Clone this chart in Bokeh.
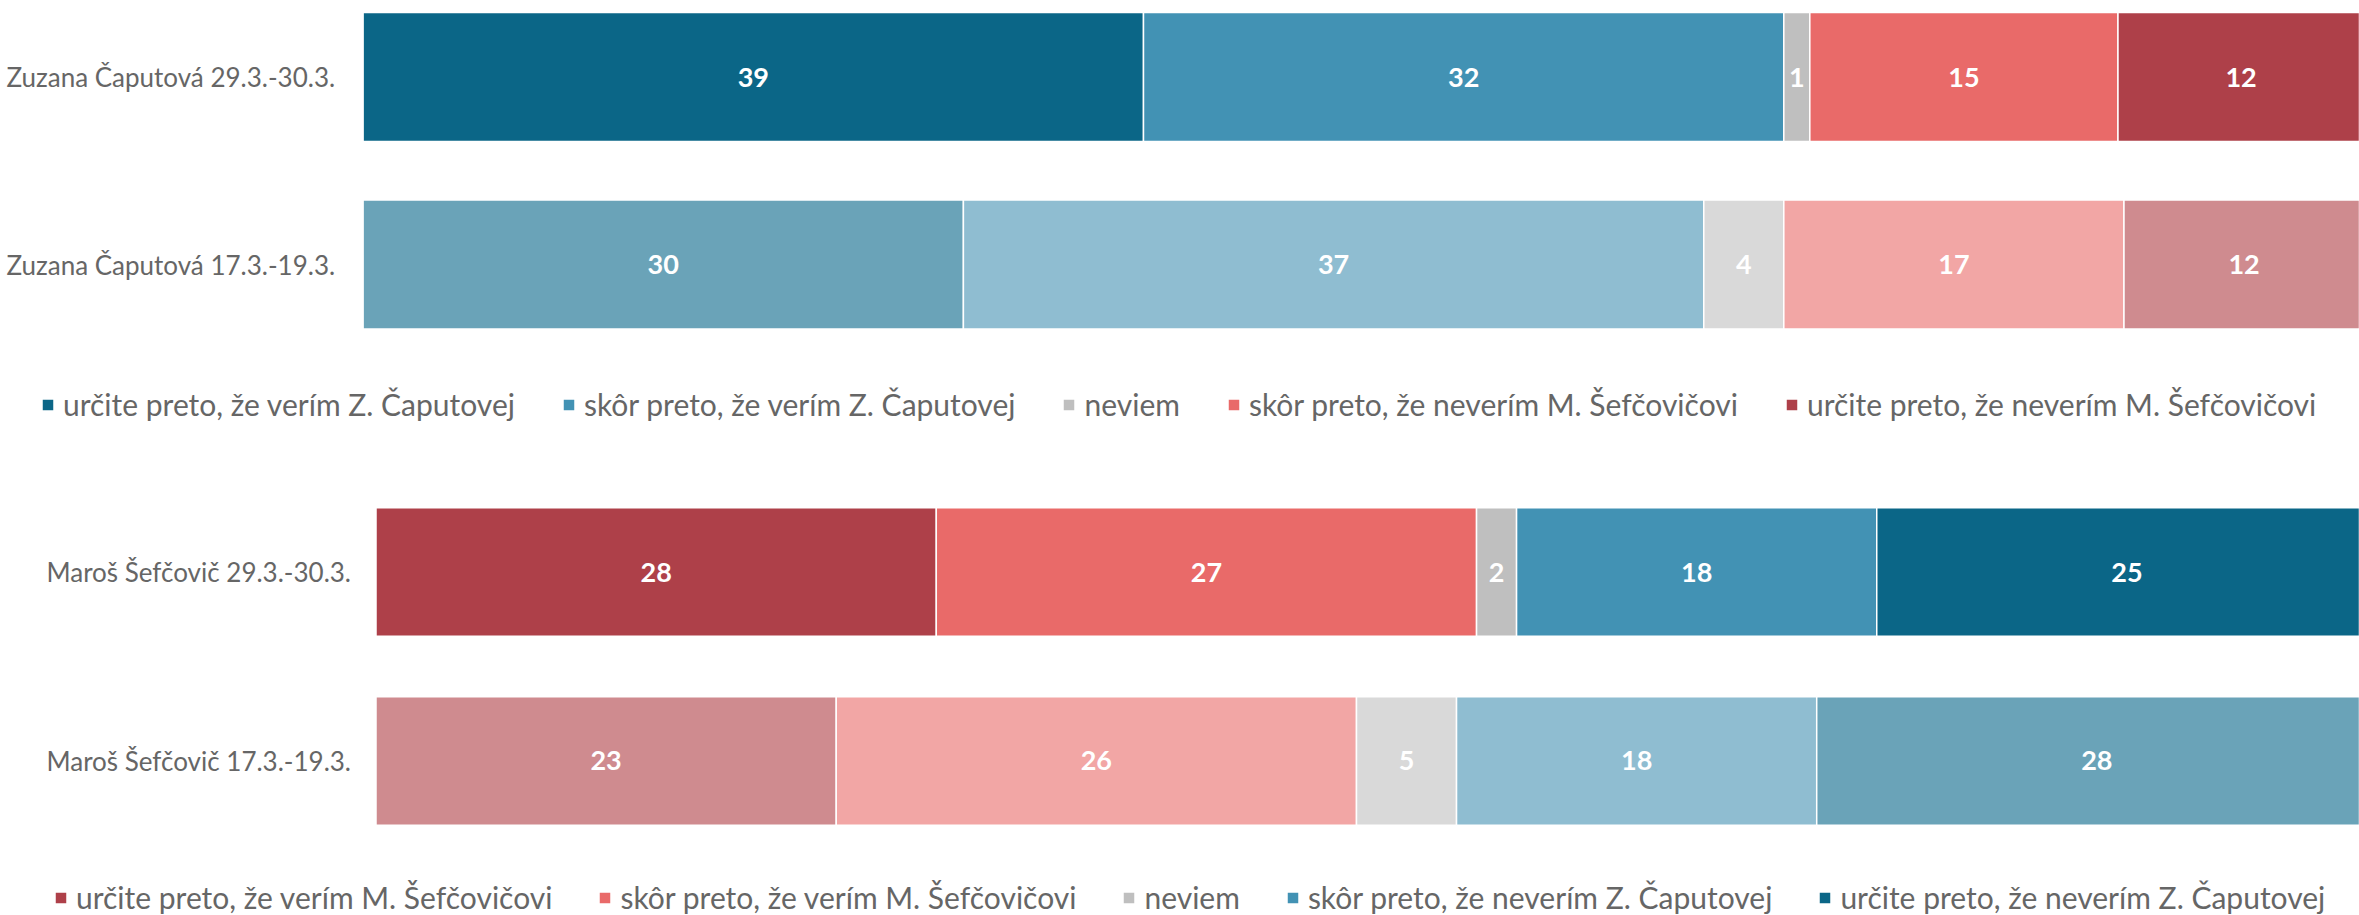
from bokeh.plotting import figure
from bokeh.models import ColumnDataSource, Range1d, Legend, LegendItem
from bokeh.layouts import column
from bokeh.core.properties import value
from bokeh.embed import file_html
from bokeh.resources import INLINE

# ---------------- data ----------------
top_categories = ["Zuzana Čaputová 29.3.-30.3.", "Zuzana Čaputová 17.3.-19.3."]
top_series = [
    "určite preto, že verím Z. Čaputovej",
    "skôr preto, že verím Z. Čaputovej",
    "neviem",
    "skôr preto, že neverím M. Šefčovičovi",
    "určite preto, že neverím M. Šefčovičovi",
]
top_urcite_verim = [39.0, 30]
top_skor_verim = [32.0, 37]
top_neviem = [1.3, 4]
top_skor_neverim = [15.4, 17]
top_urcite_neverim = [12.3, 12]

bot_categories = ["Maroš Šefčovič 29.3.-30.3.", "Maroš Šefčovič 17.3.-19.3."]
bot_series = [
    "určite preto, že verím M. Šefčovičovi",
    "skôr preto, že verím M. Šefčovičovi",
    "neviem",
    "skôr preto, že neverím Z. Čaputovej",
    "určite preto, že neverím Z. Čaputovej",
]
bot_urcite_verim = [28, 23]
bot_skor_verim = [27, 26]
bot_neviem = [2, 5]
bot_skor_neverim = [18, 18]
bot_urcite_neverim = [25, 28]

# ---------------- styles ----------------
TEAL, BLUE, GRAY, SALMON, RED = "#0B6687", "#4292B4", "#BFBFBF", "#E96A69", "#AE4049"
TEAL_L, BLUE_L, GRAY_L, SALMON_L, RED_L = "#6AA3B8", "#8FBDD1", "#D9D9D9", "#F2A6A5", "#CF8B8F"
FONT = "Lato"
TEXT_GRAY = "#666666"

W = 2359


def make_chart(categories, series_names, series_values, dark, light, height,
               zero_px, full_px, standoff, y_lo, y_hi, bar_h, legend_loc, legend_spacing):
    scale = (full_px - zero_px) / 100.0
    p = figure(width=W, height=height, output_backend="svg", toolbar_location=None,
               x_range=Range1d(-zero_px / scale, (W - zero_px) / scale),
               y_range=Range1d(y_lo, y_hi),
               min_border_left=0, min_border_right=0,
               min_border_top=0, min_border_bottom=0)
    p.axis.visible = False
    p.grid.visible = False
    p.outline_line_color = None
    p.background_fill_color = "white"
    p.border_fill_color = "white"

    ys = [1, 0]
    p.text(x=[0] * len(ys), y=ys, text=categories, x_offset=-standoff,
           text_align="right", text_baseline="middle", text_color=TEXT_GRAY,
           text_font=value(FONT), text_font_size="26px")

    cum = [0.0] * len(ys)
    items = []
    for name, vals, dc, lc in zip(series_names, series_values, dark, light):
        left = list(cum)
        for i in range(len(ys)):
            cum[i] += vals[i]
        right = list(cum)
        src = ColumnDataSource(dict(
            y=ys, left=left, right=right,
            xc=[(a + b) / 2 for a, b in zip(left, right)],
            color=[dc, lc],
            label=[f"{v:.0f}" for v in vals],
        ))
        r = p.hbar(y="y", left="left", right="right", height=bar_h, source=src,
                   fill_color="color", line_color="white", line_width=1.5)
        p.text(x="xc", y="y", text="label", source=src, text_color="white",
               text_align="center", text_baseline="middle",
               text_font=value(FONT), text_font_style="bold",
               text_font_size="27px")
        items.append(LegendItem(label=name, renderers=[r], index=0))

    legend = Legend(items=items, orientation="horizontal", location=legend_loc,
                    glyph_width=15, glyph_height=15, label_standoff=8,
                    spacing=legend_spacing,
                    padding=0, margin=0, border_line_alpha=0,
                    background_fill_alpha=0,
                    label_text_font=FONT, label_text_font_size="30px",
                    label_text_color=TEXT_GRAY)
    p.add_layout(legend)
    return p


p1 = make_chart(top_categories, top_series,
                [top_urcite_verim, top_skor_verim, top_neviem, top_skor_neverim, top_urcite_neverim],
                [TEAL, BLUE, GRAY, SALMON, RED],
                [TEAL_L, BLUE_L, GRAY_L, SALMON_L, RED_L],
                height=460, zero_px=362.6, full_px=2363.6, standoff=28,
                y_lo=-1.0453, y_hi=1.408, bar_h=0.688, legend_loc=(40, 38),
                legend_spacing=46)

p2 = make_chart(bot_categories, bot_series,
                [bot_urcite_verim, bot_skor_verim, bot_neviem, bot_skor_neverim, bot_urcite_neverim],
                [RED, SALMON, GRAY, BLUE, TEAL],
                [RED_L, SALMON_L, GRAY_L, BLUE_L, TEAL_L],
                height=455, zero_px=375.5, full_px=2376.5, standoff=25,
                y_lo=-0.8175, y_hi=1.590, bar_h=0.68, legend_loc=(53, 0),
                legend_spacing=45)

layout = column(p1, p2, spacing=0)
open("out.html", "w").write(file_html(layout, INLINE))
